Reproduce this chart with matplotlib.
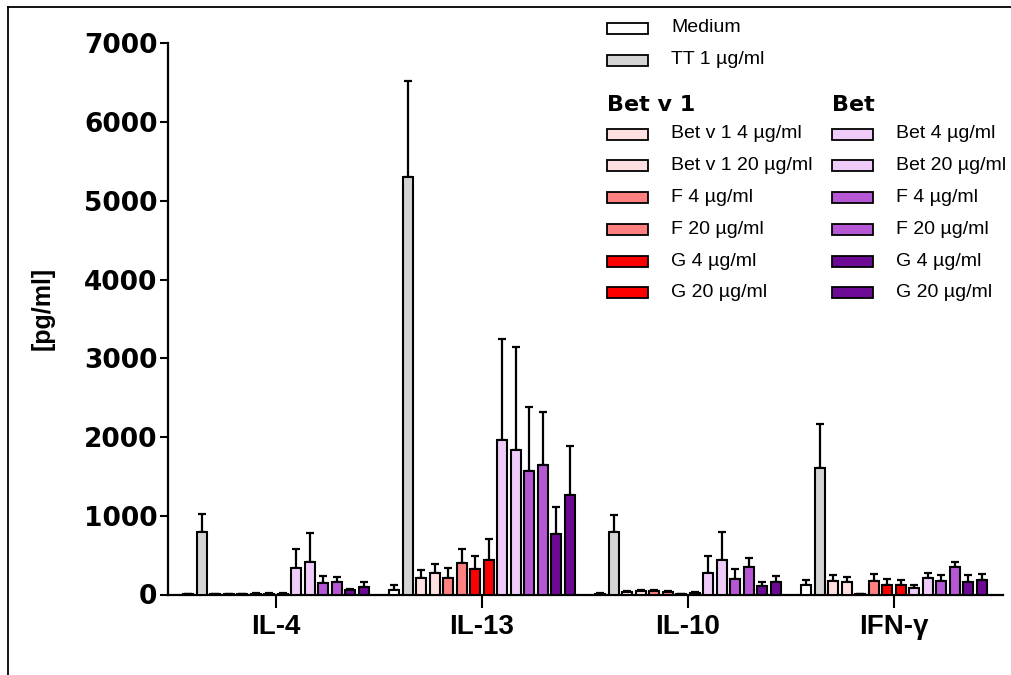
import matplotlib
matplotlib.use("Agg")
import matplotlib.pyplot as plt
import numpy as np
from matplotlib.patches import Rectangle
from matplotlib.lines import Line2D

plt.rcParams['font.family'] = ['Liberation Sans', 'DejaVu Sans']

cytokines = ["IL-4", "IL-13", "IL-10", "IFN-γ"]
treatments = ["Medium", "TT 1 µg/ml",
              "Bet v 1 4 µg/ml", "Bet v 1 20 µg/ml", "F 4 µg/ml", "F 20 µg/ml",
              "G 4 µg/ml", "G 20 µg/ml",
              "Bet 4 µg/ml", "Bet 20 µg/ml", "F 4 µg/ml", "F 20 µg/ml",
              "G 4 µg/ml", "G 20 µg/ml"]
colors = ["#ffffff", "#d4d4d4",
          "#ffe0e0", "#ffe0e0", "#ff8080", "#ff8080", "#ff0000", "#ff0000",
          "#eecbf8", "#eecbf8", "#b657d6", "#b657d6", "#6c0a96", "#6c0a96"]

# mean values per cytokine, one per treatment (pg/ml)
il4_mean = [5, 796, 8, 6, 8, 10, 12, 10, 334, 415, 148, 157, 63, 97]
il13_mean = [55, 5300, 212, 275, 212, 402, 318, 436, 1961, 1830, 1571, 1639, 765, 1265]
il10_mean = [10, 800, 35, 40, 45, 30, 8, 20, 275, 436, 203, 352, 106, 165]
ifng_mean = [123, 1610, 168, 155, 5, 176, 127, 123, 81, 210, 176, 353, 163, 184]

# upper error (SEM)
il4_err = [3, 224, 4, 3, 4, 5, 5, 4, 242, 364, 85, 67, 9, 64]
il13_err = [65, 1220, 97, 118, 127, 182, 169, 275, 1279, 1312, 809, 677, 350, 625]
il10_err = [5, 212, 10, 12, 14, 10, 4, 10, 212, 356, 115, 114, 51, 76]
ifng_err = [59, 550, 84, 71, 3, 89, 70, 65, 42, 68, 69, 60, 82, 73]

means = np.array([il4_mean, il13_mean, il10_mean, ifng_mean])
errs = np.array([il4_err, il13_err, il10_err, ifng_err])

fig = plt.figure(figsize=(10.12, 6.75), dpi=100)
W, H = 1012, 675
ax = fig.add_axes([168 / W, 80.5 / H, (1003 - 168) / W, (595 - 44) / H])

slot = 13.5 / 206
bar_w = 10 / 206
n = len(treatments)
for i in range(n):
    x = np.arange(len(cytokines)) + (i - (n - 1) / 2) * slot
    ax.errorbar(x, means[:, i], yerr=[np.zeros(len(cytokines)), errs[:, i]],
                fmt='none', ecolor='black', elinewidth=1.6, capsize=3.2,
                capthick=1.6, zorder=2)
    ax.bar(x, means[:, i], width=bar_w, color=colors[i], edgecolor='black',
           linewidth=1.5, zorder=3)

ax.set_xlim(-108 / 206, (1003 - 276) / 206)
ax.set_ylim(0, 7000)
ax.set_yticks(np.arange(0, 7001, 1000))
ax.set_xticks(np.arange(len(cytokines)))
ax.set_xticklabels(cytokines, fontsize=20, fontweight='bold')
for lab in ax.get_yticklabels():
    lab.set_fontfamily('DejaVu Sans')
    lab.set_fontweight('bold')
    lab.set_fontsize(19)
ax.tick_params(axis='y', length=6, width=1.5, pad=1.5)
ax.tick_params(axis='x', length=9, width=1.5, pad=5)
for s in ['top', 'right']:
    ax.spines[s].set_visible(False)
for s in ['left', 'bottom']:
    ax.spines[s].set_linewidth(1.6)
ax.set_ylabel("[pg/ml]", fontsize=18, fontweight='bold')
ax.yaxis.set_label_coords(-113 / (1003 - 168), 0.52)

# image frame (left and top edges)
fig.add_artist(Line2D([8 / W, 8 / W], [0, 1 - 7 / H], color='black', lw=1.3))
fig.add_artist(Line2D([8 / W, 1], [1 - 7 / H, 1 - 7 / H], color='black', lw=1.3))


# legend, drawn by hand to match the two-column layout
def legend_entry(px, py, label, color):
    fig.add_artist(Rectangle((px / W, 1 - (py + 5.5) / H), 41 / W, 11 / H,
                             facecolor=color, edgecolor='black', lw=1.3))
    fig.text((px + 64) / W, 1 - py / H, label, fontsize=14, va='center', ha='left')


legend_entry(607, 28, treatments[0], colors[0])
legend_entry(607, 60, treatments[1], colors[1])
fig.text(607 / W, 1 - 105 / H, "Bet v 1", fontsize=16, fontweight='bold',
         family='DejaVu Sans', va='center', ha='left')
fig.text(832 / W, 1 - 105 / H, "Bet", fontsize=16, fontweight='bold',
         family='DejaVu Sans', va='center', ha='left')
rows = [134, 165.5, 197.5, 229, 261, 292.5]
for k, py in enumerate(rows):
    legend_entry(607, py, treatments[2 + k], colors[2 + k])
    legend_entry(832, py, treatments[8 + k], colors[8 + k])

fig.savefig("out.png", dpi=100)
